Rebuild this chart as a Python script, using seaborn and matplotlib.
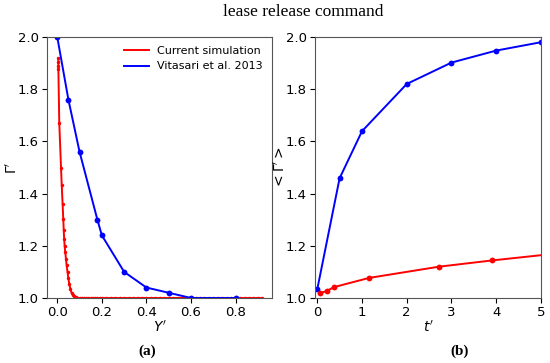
import matplotlib
matplotlib.use("Agg")
import matplotlib.pyplot as plt
from matplotlib.lines import Line2D
import seaborn as sns
import pandas as pd

# ---- data ----
# (a) left panel: Gamma' vs Y'
sim_y = [0.005, 0.005, 0.005, 0.005, 0.009, 0.017, 0.020, 0.024, 0.027, 0.029, 0.031,
         0.033, 0.036, 0.039, 0.042, 0.046, 0.050, 0.054, 0.059, 0.064, 0.070, 0.076,
         0.083, 0.090, 0.100, 0.11, 0.12, 0.13, 0.14, 0.15, 0.16, 0.17, 0.18, 0.19,
         0.20, 0.22, 0.24, 0.26, 0.28, 0.30, 0.32, 0.34, 0.36, 0.38, 0.40, 0.42, 0.44,
         0.46, 0.48, 0.50, 0.52, 0.54, 0.56, 0.58, 0.60, 0.62, 0.64, 0.66, 0.68, 0.70,
         0.72, 0.74, 0.76, 0.78, 0.80, 0.82, 0.84, 0.86, 0.88, 0.90, 0.917]
sim_gamma = [1.918, 1.905, 1.89, 1.878, 1.672, 1.497, 1.433, 1.36, 1.302, 1.26, 1.226,
             1.20, 1.175, 1.15, 1.125, 1.10, 1.075, 1.052, 1.035, 1.02, 1.011, 1.006,
             1.003, 1.001, 1.0, 1.0, 1.0, 1.0, 1.0, 1.0, 1.0, 1.0, 1.0, 1.0,
             1.0, 1.0, 1.0, 1.0, 1.0, 1.0, 1.0, 1.0, 1.0, 1.0, 1.0, 1.0, 1.0,
             1.0, 1.0, 1.0, 1.0, 1.0, 1.0, 1.0, 1.0, 1.0, 1.0, 1.0, 1.0, 1.0,
             1.0, 1.0, 1.0, 1.0, 1.0, 1.0, 1.0, 1.0, 1.0, 1.0, 1.0]
vit_y = [0.0, 0.05, 0.10, 0.18, 0.20, 0.30, 0.40, 0.50, 0.60, 0.80]
vit_gamma = [2.0, 1.76, 1.56, 1.30, 1.24, 1.10, 1.04, 1.02, 1.00, 1.00]

# (b) right panel: <Gamma'> vs t'
sim_t = [0.07, 0.22, 0.38, 1.16, 2.72, 3.91, 5.0]
sim_mean = [1.018, 1.028, 1.042, 1.077, 1.12, 1.144, 1.164]
vit_t = [0.0, 0.5, 1.0, 2.0, 3.0, 4.0, 5.0]
vit_mean = [1.033, 1.459, 1.639, 1.82, 1.902, 1.948, 1.98]

series_labels = ["Current simulation", "Vitasari et al. 2013"]
title = "lease release command"

RED = "#ff0000"
BLUE = "#0000ff"

fig = plt.figure(figsize=(5.5, 3.63), dpi=100)
axL = fig.add_axes([47/550, 1-298/363, 225/550, 261/363])
axR = fig.add_axes([315/550, 1-298/363, 226/550, 261/363])

dfL_sim = pd.DataFrame({"x": sim_y, "y": sim_gamma})
dfL_vit = pd.DataFrame({"x": vit_y, "y": vit_gamma})
sns.lineplot(data=dfL_sim, x="x", y="y", ax=axL, color=RED, marker=".", markersize=5,
             markeredgewidth=0, linewidth=1.4, sort=False, estimator=None)
sns.lineplot(data=dfL_vit, x="x", y="y", ax=axL, color=BLUE, marker="o", markersize=4.2,
             markeredgewidth=0, linewidth=1.4, sort=False, estimator=None)
axL.set_ylim(1.0, 2.0)
axL.set_xlim(-0.046, 0.963)
axL.set_xticks([0.0, 0.2, 0.4, 0.6, 0.8])
axL.set_yticks([1.0, 1.2, 1.4, 1.6, 1.8, 2.0])
axL.set_xlabel("$Y'$", fontsize=10, labelpad=0)
axL.set_ylabel("$\\Gamma'$", fontsize=10)
axL.yaxis.set_label_coords(-0.118, 0.5)
axL.legend(handles=[Line2D([], [], color=RED, lw=1.4), Line2D([], [], color=BLUE, lw=1.4)],
           labels=series_labels, loc="upper right", frameon=False, fontsize=8,
           handlelength=2.2, borderaxespad=0.4)

dfR_sim = pd.DataFrame({"x": sim_t, "y": sim_mean})
dfR_vit = pd.DataFrame({"x": vit_t, "y": vit_mean})
sns.lineplot(data=dfR_vit, x="x", y="y", ax=axR, color=BLUE, marker="o", markersize=4.2,
             markeredgewidth=0, linewidth=1.4, sort=False, estimator=None)
sns.lineplot(data=dfR_sim, x="x", y="y", ax=axR, color=RED, marker="o", markersize=4.2,
             markeredgewidth=0, linewidth=1.4, sort=False, estimator=None,
             markevery=list(range(len(sim_t) - 1)))
axR.set_ylim(1.0, 2.0)
axR.set_xlim(-0.05, 5.0)
axR.set_xticks([0, 1, 2, 3, 4, 5])
axR.set_yticks([1.0, 1.2, 1.4, 1.6, 1.8, 2.0])
axR.set_xlabel("$t'$", fontsize=10, labelpad=0)
axR.set_ylabel("$<\\Gamma'>$", fontsize=10)
axR.yaxis.set_label_coords(-0.118, 0.5)

for ax in (axL, axR):
    ax.tick_params(labelsize=9.5, length=3.5, width=0.8, pad=2.5)
    for s in ax.spines.values():
        s.set_linewidth(0.8)
        s.set_color("#555555")

fig.text(303/550, 1-12/363, title, ha="center", va="center", fontsize=12.5,
         family="Liberation Serif")
fig.text(146.7/550, 1-351.5/363, "(a)", ha="center", va="center", fontsize=11,
         family="Liberation Serif", weight="bold")
fig.text(460/550, 1-351.5/363, "(b)", ha="center", va="center", fontsize=11,
         family="Liberation Serif", weight="bold")

fig.savefig("out.png", dpi=100)
